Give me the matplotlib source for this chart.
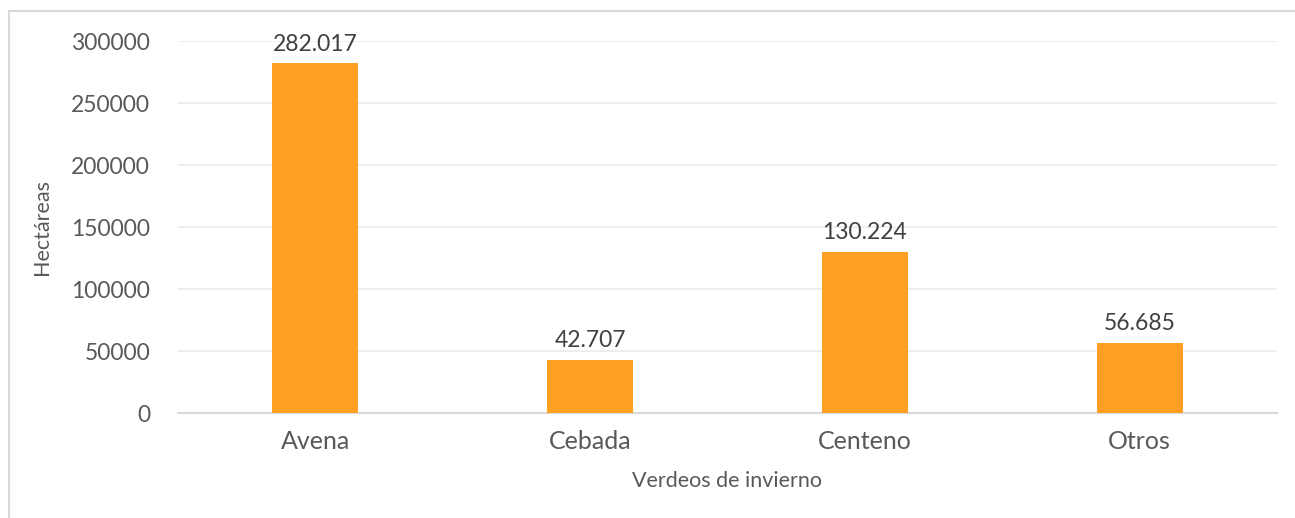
import matplotlib.pyplot as plt
from matplotlib.patches import Rectangle

categories = ["Avena", "Cebada", "Centeno", "Otros"]
hectareas = [282017, 42707, 130224, 56685]
labels = ["282.017", "42.707", "130.224", "56.685"]
yticks = [0, 50000, 100000, 150000, 200000, 250000, 300000]

plt.rcParams["font.family"] = ["Lato", "DejaVu Sans"]
txt = "#595959"

fig = plt.figure(figsize=(12.95, 5.18), dpi=100)
fig.patches.append(Rectangle((9 / 1295, -0.1), 1.2, (518 - 11) / 518 + 0.1,
                             transform=fig.transFigure, fill=False,
                             edgecolor="#d9d9d9", lw=1.5))
ax = fig.add_axes([178 / 1295, 1 - 413 / 518, 1099 / 1295, 372 / 518])

x = range(len(categories))
bars = ax.bar(x, hectareas, width=0.313, color="#FFA024", zorder=3)
for b, lab in zip(bars, labels):
    ax.text(b.get_x() + b.get_width() / 2, b.get_height() + 7000, lab,
            ha="center", va="bottom", fontsize=16.5, color="#404040")

ax.set_xlim(-0.5, len(categories) - 0.5)
ax.set_ylim(0, 300000)
ax.set_yticks(yticks)
ax.set_yticklabels([str(v) for v in yticks])
ax.set_xticks(list(x))
ax.set_xticklabels(categories)
ax.tick_params(axis="both", length=0, labelsize=16.5, labelcolor=txt)
ax.tick_params(axis="x", pad=12, labelsize=18)
ax.tick_params(axis="y", pad=20)
ax.grid(axis="y", color="#ebebeb", lw=1.2, zorder=0)
for s in ["top", "right", "left"]:
    ax.spines[s].set_visible(False)
ax.spines["bottom"].set_color("#d9d9d9")
ax.spines["bottom"].set_linewidth(1.5)

ax.set_xlabel("Verdeos de invierno", fontsize=15.5, color=txt, labelpad=13)
ax.set_ylabel("Hectáreas", fontsize=15.5, color=txt, labelpad=14)

fig.savefig("out.png", dpi=100)
